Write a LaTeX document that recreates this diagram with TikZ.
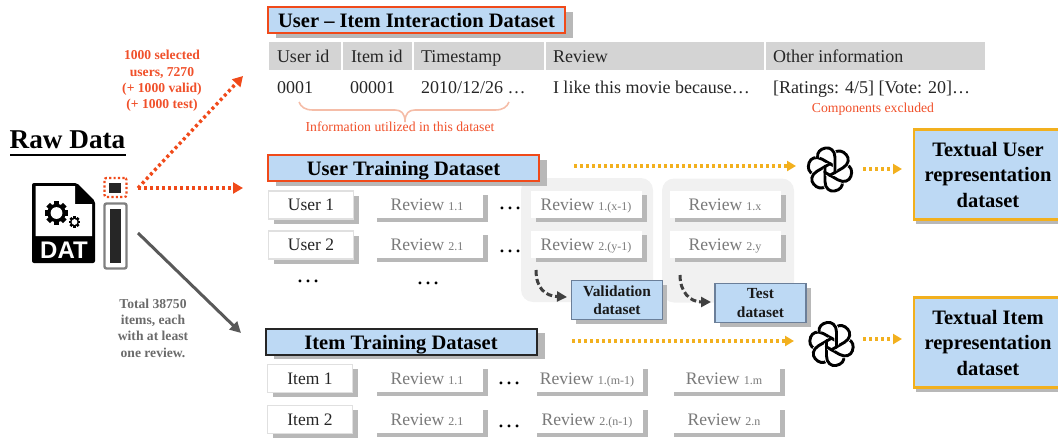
\documentclass[tikz,border=0pt]{standalone}
\usepackage{fontspec}
\setmainfont{Liberation Serif}
\newfontfamily\datfont{Liberation Sans}
\usetikzlibrary{arrows.meta}
\definecolor{shgray}{HTML}{B8B8B8}
\definecolor{hdrgray}{HTML}{D4D4D4}
\definecolor{titleblue}{HTML}{BDD9F4}
\definecolor{redor}{HTML}{F04A1A}
\definecolor{txtred}{HTML}{F0502A}
\definecolor{bracered}{HTML}{F5BDA8}
\definecolor{yel}{HTML}{F2B01E}
\definecolor{revgray}{HTML}{7A7A7A}
\definecolor{panelgray}{HTML}{F1F1F1}
\definecolor{darkbar}{HTML}{262626}
\definecolor{midgray}{HTML}{595959}
\definecolor{subbord}{HTML}{6B7F99}
\newcommand{\fs}[1]{\fontsize{#1}{#1}\selectfont}
\newcommand{\rv}[2]{{\fs{17.6}Review}\hspace{0.42em}{\fs{12}#1.#2}}
\tikzset{
  x=1pt,y=-1pt,
  every node/.style={inner sep=0pt,outer sep=0pt},
  shad/.style={preaction={draw=none,fill=shgray,transform canvas={shift={(#1,-4.5pt)}}}},
  shad/.default=7pt,
  titlebox/.style={draw=#1,line width=2pt,fill=titleblue,shad=8pt,minimum height=26pt,text height=18pt,text depth=3pt,font=\bfseries\fs{20.5}},
  hdrcell/.style={fill=hdrgray,minimum height=28pt},
  rowtext/.style={anchor=base west,text=black!85,font=\fs{18}},
  entity/.style={draw=black!12,line width=1.5pt,fill=white,shad=5pt,minimum width=85pt,minimum height=28pt,font=\fs{17.5},text=black!85},
  revbox/.style={fill=white,shad=5pt,minimum width=111pt,minimum height=27pt,text height=15pt,text depth=2pt,text=revgray},
  panel/.style={fill=panelgray,rounded corners=12pt,minimum width=132pt,minimum height=124pt},
  subset/.style={draw=subbord,line width=1.5pt,fill=titleblue,shad=4.5pt,minimum width=91pt,minimum height=39pt,align=center,font=\bfseries\fs{15.4},text=black!90},
  output/.style={draw=yel,line width=2.2pt,fill=titleblue,shad=2pt,minimum width=148pt,minimum height=90pt,align=center,font=\bfseries\fs{20.5}},
  redarrow/.style={draw=redor,line width=3.4pt,dash pattern=on 3pt off 3pt,-{Triangle[length=10pt,width=11pt,fill=redor]}},
  yelarrow/.style={draw=yel,line width=3.2pt,dash pattern=on 3pt off 3pt,-{Triangle[length=9pt,width=10pt,fill=yel]}},
  grayarrow/.style={draw=midgray,line width=3pt,-{Triangle[length=11pt,width=11pt,fill=midgray]}},
  dasharrow/.style={draw=black!75,line width=3pt,dash pattern=on 6pt off 3pt,-{Triangle[length=10pt,width=10pt,fill=black!75]}},
  dots/.style={font=\fs{24},text=black},
  note/.style={align=center,font=\bfseries\fs{13.6}},
}
\newcommand{\logoat}[2]{%
  \begin{scope}[shift={(#1,#2)},x=1pt,y=1pt]
    \foreach \a in {0,60,...,360}{
      \begin{scope}[rotate=\a]
        \draw[white,line width=4.4pt] (5,-1) -- (5,12) .. controls (5,19) and (0,22.5) .. (-4.5,21.5) .. controls (-10,20.5) and (-13,17) .. (-12.4,12);
        \draw[black,line width=2.9pt,line cap=round] (5,-3.4) -- (5,12) .. controls (5,19) and (0,22.5) .. (-4.5,21.5) .. controls (-10,20.5) and (-13,17) .. (-12.4,12);
      \end{scope}
    }
  \end{scope}}
\newcommand{\gearat}[3]{% x y r
  \begin{scope}[shift={(#1,#2)},x=1pt,y=1pt]
    \fill[black] (0,0) circle (#3*0.78);
    \foreach \a in {0,45,...,315}{\fill[black,rotate=\a] (-#3*0.22,0) rectangle (#3*0.22,#3);}
    \fill[white] (0,0) circle (#3*0.5);
  \end{scope}}
\begin{document}
\begin{tikzpicture}
\useasboundingbox (0,0) rectangle (1058,437);
% raw data
\node[anchor=base,font=\bfseries\fs{27.2}] (raw) at (67.5,148) {Raw Data};
\draw[line width=1.5pt] (10,155) -- (126,155);
\fill[black,rounded corners=2pt] (32,183) -- (77,183) -- (95,201) -- (95,263) -- (32,263) -- cycle;
\fill[white] (35.5,186) -- (75,186) -- (75,204) -- (92,204) -- (92,236) -- (35.5,236) -- cycle;
\gearat{56.5}{213}{11.8}
\gearat{74.5}{222}{5.8}
\node[text=white,font=\datfont\bfseries\fs{24}] (dat) at (64,250) {DAT};
\node[draw=redor,line width=2.2pt,dash pattern=on 2.2pt off 2.2pt,rounded corners=2pt,minimum width=22pt,minimum height=19pt] (sel) at (115.5,187.5) {};
\node[fill=darkbar,minimum width=12pt,minimum height=10pt] (selin) at (115,188) {};
\node[draw=gray,line width=2.4pt,rounded corners=2pt,minimum width=22pt,minimum height=65pt] (barout) at (115.5,236) {};
\node[fill=darkbar,minimum width=11.5pt,minimum height=54pt] (barin) at (115.5,236) {};
\coordinate (src1) at (138,188);
\coordinate (src2) at (138,233);
\coordinate (t1) at (243,76);
\coordinate (t2) at (243,188);
\coordinate (t3) at (241,333);
\draw[redarrow] (src1) -- (t1);
\draw[redarrow] (src1) -- (t2);
\draw[grayarrow] (src2) -- (t3);
\node[note,text=txtred] (n1) at (162,81) {1000 selected\\[2.8pt]users, 7270\\[2.8pt](+ 1000 valid)\\[2.8pt](+ 1000 test)};
\node[note,text=black!58] (n2) at (153,328) {Total 38750\\[2.8pt]items, each\\[2.8pt]with at least\\[2.8pt]one review.};
% interaction
\node[titlebox=redor,minimum width=297pt] (t-int) at (416.5,20) {User -- Item Interaction Dataset};
\node[hdrcell,minimum width=72pt,anchor=west] (h1) at (269,56) {};
\node[hdrcell,minimum width=69pt,anchor=west] (h2) at (343,56) {};
\node[hdrcell,minimum width=130pt,anchor=west] (h3) at (414,56) {};
\node[hdrcell,minimum width=218pt,anchor=west] (h4) at (546,56) {};
\node[hdrcell,minimum width=219pt,anchor=west] (h5) at (766,56) {};
\node[rowtext] (ht1) at (277,62.5) {User id};
\node[rowtext] (ht2) at (351,62.5) {Item id};
\node[rowtext] (ht3) at (421,62.5) {Timestamp};
\node[rowtext] (ht4) at (553,62.5) {Review};
\node[rowtext] (ht5) at (773,62.5) {Other information};
\node[rowtext] (v1) at (277,93) {0001};
\node[rowtext] (v2) at (350,93) {00001};
\node[rowtext] (v3) at (421,93) {2010/12/26 …};
\node[rowtext] (v4) at (553,93) {I like this movie because…};
\node[rowtext] (v5) at (773,93) {[Ratings: 4/5] [Vote: 20]…};
\coordinate (br1) at (299,102);
\coordinate (brt) at (405,122);
\coordinate (br2) at (509,102);
\draw[bracered,line width=1.6pt] (br1) .. controls (301,107) and (305,110) .. (313,110) -- (395,110) .. controls (401,110) and (405,113) .. (brt) .. controls (405,113) and (409,110) .. (415,110) -- (495,110) .. controls (503,110) and (507,107) .. (br2);
\node[text=txtred,font=\fs{13.7}] (info) at (400,127) {Information utilized in this dataset};
\node[text=txtred,font=\fs{13.7}] (comp) at (873,109) {Components excluded};
% panels
\node[panel] (p1) at (587,240) {};
\node[panel] (p2) at (728,240.5) {};
% user training
\node[titlebox=redor,minimum width=271pt] (t-user) at (403.5,168) {User Training Dataset};
\node[entity] (u1) at (311,205) {User 1};
\node[entity] (u2) at (311,245) {User 2};
\node[dots] (ud1) at (308,281) {…};
\node[dots] (ud2) at (428,283) {…};
\node[revbox] (r11) at (427,204) {\rv{1}{1}};
\node[revbox] (r21) at (427,244) {\rv{2}{1}};
\node[dots] (d1) at (510,208) {…};
\node[dots] (d2) at (510,251) {…};
\node[revbox] (r1x1) at (586,204) {\rv{1}{(x-1)}};
\node[revbox] (r2y1) at (586,244) {\rv{2}{(y-1)}};
\node[revbox] (r1x) at (725,204) {\rv{1}{x}};
\node[revbox] (r2y) at (725,244) {\rv{2}{y}};
\node[subset] (val) at (617,300) {Validation\\[3pt]dataset};
\node[subset] (test) at (760.5,303) {Test\\[3pt]dataset};
\coordinate (c1) at (536,270);
\coordinate (c2) at (680,275);
\coordinate (c1e) at (567,297);
\coordinate (c2e) at (711,302);
\draw[dasharrow] (c1) .. controls (536,288) and (545,296) .. (c1e);
\draw[dasharrow] (c2) .. controls (680,292) and (690,302) .. (c2e);
% item training
\node[titlebox={black!85},minimum width=271pt] (t-item) at (401,341.5) {Item Training Dataset};
\node[entity] (i1) at (310,378.5) {Item 1};
\node[entity] (i2) at (310,419.5) {Item 2};
\node[revbox] (q11) at (427,378) {\rv{1}{1}};
\node[revbox] (q21) at (427,419) {\rv{2}{1}};
\node[dots] (e1) at (509,383) {…};
\node[dots] (e2) at (509,426) {…};
\node[revbox] (q1m) at (587,378) {\rv{1}{(m-1)}};
\node[revbox] (q2n) at (587,419) {\rv{2}{(n-1)}};
\node[revbox] (q1e) at (724,378) {\rv{1}{m}};
\node[revbox] (q2e) at (724,419) {\rv{2}{n}};
% outputs
\logoat{830}{169.5}
\logoat{831.5}{344}
\node[output] (ou) at (988,174.5) {Textual User\\[5pt]representation\\[5pt]dataset};
\node[output] (oi) at (988,342.5) {Textual Item\\[5pt]representation\\[5pt]dataset};
\coordinate (y1a) at (574,166); \coordinate (y1b) at (796,166);
\coordinate (y2a) at (863,169); \coordinate (y2b) at (902,169);
\coordinate (y3a) at (572,341); \coordinate (y3b) at (794,341);
\coordinate (y4a) at (863,339); \coordinate (y4b) at (902,339);
\draw[yelarrow] (y1a) -- (y1b);
\draw[yelarrow] (y2a) -- (y2b);
\draw[yelarrow] (y3a) -- (y3b);
\draw[yelarrow] (y4a) -- (y4b);
\end{tikzpicture}
\end{document}
